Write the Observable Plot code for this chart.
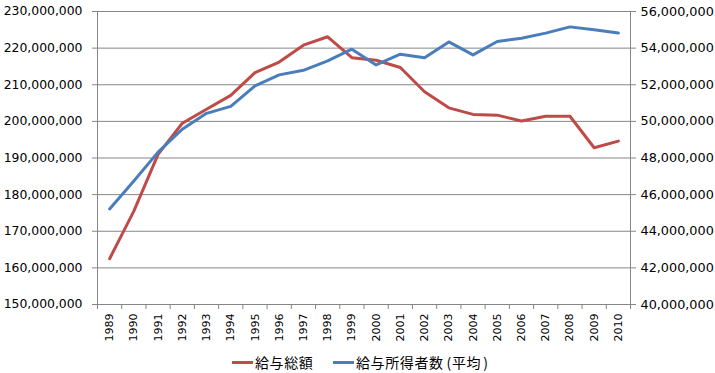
<!DOCTYPE html>
<html><head><meta charset="utf-8">
<script src="https://cdn.jsdelivr.net/npm/d3@7"></script>
<script src="https://cdn.jsdelivr.net/npm/@observablehq/plot@0.6"></script>
<style>
body{margin:0;background:#fff;}
#chart{position:relative;width:715px;height:373px;overflow:hidden;}
#chart svg{position:absolute;left:0;top:0;}
.lg{position:absolute;top:352px;height:20px;display:flex;align-items:center;font-family:"Noto Sans CJK JP",sans-serif;font-size:14px;color:#000;white-space:nowrap;}
.sw{display:inline-block;width:21px;height:3px;margin-right:2px;}
.lg .txt{letter-spacing:0.6px;}
</style>
</head><body>
<div id="chart"></div>
<script>
const years = [1989,1990,1991,1992,1993,1994,1995,1996,1997,1998,1999,2000,2001,2002,2003,2004,2005,2006,2007,2008,2009,2010];
// 給与総額 (left axis)
const payTotal = [162.5e6,175.5e6,191.0e6,199.5e6,203.3e6,207.1e6,213.3e6,216.2e6,220.8e6,223.1e6,217.4e6,216.7e6,214.7e6,208.1e6,203.7e6,201.9e6,201.7e6,200.1e6,201.4e6,201.4e6,192.8e6,194.6e6];
// 給与所得者数(平均) (right axis)
const earners = [45.22e6,46.74e6,48.32e6,49.57e6,50.44e6,50.82e6,51.94e6,52.54e6,52.79e6,53.30e6,53.94e6,53.08e6,53.67e6,53.48e6,54.34e6,53.63e6,54.36e6,54.54e6,54.82e6,55.16e6,55.00e6,54.82e6];
const leftTicks = [150e6,160e6,170e6,180e6,190e6,200e6,210e6,220e6,230e6];
const rightTicks = [40e6,42e6,44e6,46e6,48e6,50e6,52e6,54e6,56e6];
const seriesNames = ["給与総額","給与所得者数(平均)"];
const colors = ["#BE4B48","#4A7EBB"];

const lMin = 150e6, lMax = 230e6, rMin = 40e6, rMax = 56e6;
const toLeft = v => lMin + (v - rMin) * (lMax - lMin) / (rMax - rMin);
const data = years.map((y, i) => ({year: y, pay: payTotal[i], earn: toLeft(earners[i])}));
const boundaries = [years[0] - 0.5, ...years.map(y => y + 0.5)];
const fmt = d3.format(",");
const grey = "#868686";

const plot = Plot.plot({
  width: 715, height: 345,
  marginTop: 11, marginBottom: 41, marginLeft: 97, marginRight: 85,
  style: {fontFamily: "DejaVu Sans, sans-serif", background: "#fff"},
  x: {type: "linear", domain: [years[0] - 0.5, years[years.length - 1] + 0.5]},
  y: {domain: [lMin, lMax]},
  marks: [
    Plot.gridY(leftTicks, {stroke: grey, strokeOpacity: 1, strokeWidth: 1}),
    Plot.ruleX([years[0] - 0.5, years[years.length - 1] + 0.5], {stroke: grey}),
    Plot.axisY(leftTicks, {anchor: "left", tickSize: 5, tickPadding: 10, stroke: grey, fill: "#000", fontSize: 12.4, tickFormat: fmt, label: null}),
    Plot.axisY(rightTicks.map(toLeft), {anchor: "right", tickSize: 5, tickPadding: 5, stroke: grey, fill: "#000", fontSize: 12.8, tickFormat: (d, i) => fmt(rightTicks[i]), label: null}),
    Plot.axisX(boundaries, {tickSize: 5, stroke: grey, tickFormat: () => "", label: null}),
    Plot.axisX(years, {tickSize: 0, tickPadding: 9, tickRotate: -90, fill: "#000", fontSize: 11, tickFormat: d => String(d), label: null}),
    Plot.line(data, {x: "year", y: "pay", stroke: colors[0], strokeWidth: 3, strokeLinejoin: "round"}),
    Plot.line(data, {x: "year", y: "earn", stroke: colors[1], strokeWidth: 3, strokeLinejoin: "round"})
  ]
});
const chart = document.getElementById("chart");
chart.appendChild(plot);

const lefts = [[232, 0], [333, 1]];
for (const [x, i] of lefts) {
  const d = document.createElement("div");
  d.className = "lg";
  d.style.left = x + "px";
  const label = seriesNames[i].replace(/\(/g, '<span style="margin-left:3px">(</span>').replace(/\)/g, '<span style="margin-left:2px">)</span>');
  d.innerHTML = `<span class="sw" style="background:${colors[i]}"></span><span class="txt">${label}</span>`;
  chart.appendChild(d);
}
</script>
</body></html>
